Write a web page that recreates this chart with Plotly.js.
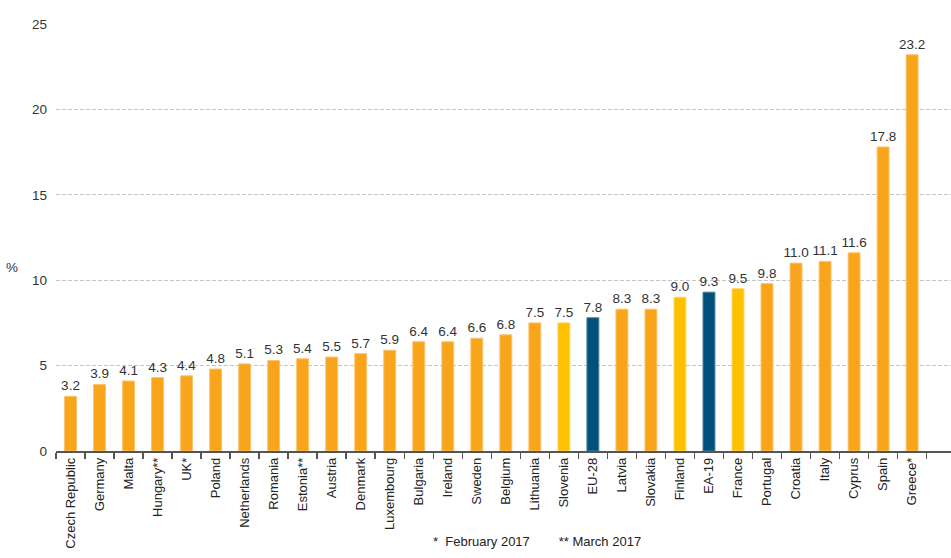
<!DOCTYPE html>
<html><head><meta charset="utf-8">
<script src="https://cdn.plot.ly/plotly-3.0.1.min.js"></script>
<style>html,body{margin:0;padding:0;background:#fff}#chart{width:951px;height:558px}</style>
</head><body><div id="chart"></div>
<script>
const categories = ["Czech Republic","Germany","Malta","Hungary**","UK*","Poland","Netherlands","Romania","Estonia**","Austria","Denmark","Luxembourg","Bulgaria","Ireland","Sweden","Belgium","Lithuania","Slovenia","EU-28","Latvia","Slovakia","Finland","EA-19","France","Portugal","Croatia","Italy","Cyprus","Spain","Greece*"];
const values = [3.2,3.9,4.1,4.3,4.4,4.8,5.1,5.3,5.4,5.5,5.7,5.9,6.4,6.4,6.6,6.8,7.5,7.5,7.8,8.3,8.3,9.0,9.3,9.5,9.8,11.0,11.1,11.6,17.8,23.2];
const groups = ["c","c","c","c","c","c","c","c","c","c","c","c","c","c","c","c","c","y","a","c","c","y","a","y","c","c","c","c","c","c"];
const colorMap = {c:"#F9A51C", y:"#FFC000", a:"#00507C"};
const lineMap = {c:"#FBC36A", y:"#FFD65A", a:"#4A7FA0"};

const trace = {
  type: "bar",
  x: categories,
  y: values,
  text: values.map(v => v.toFixed(1)),
  textposition: "outside",
  constraintext: "none",
  cliponaxis: false,
  textfont: {family: "Liberation Sans, Arial, sans-serif", size: 13.5, color: "#333"},
  marker: {color: groups.map(g => colorMap[g]), line: {color: groups.map(g => lineMap[g]), width: 1}},
  hoverinfo: "none"
};

const layout = {
  width: 951, height: 558,
  margin: {l: 56, r: 0, t: 24, b: 107},
  paper_bgcolor: "#fff", plot_bgcolor: "#fff",
  bargap: 0.59,
  showlegend: false,
  uniformtext: {mode: "show", minsize: 13.5},
  font: {family: "Liberation Sans, Arial, sans-serif", color: "#333"},
  xaxis: {
    type: "category",
    range: [-0.5, 30.34],
    tickangle: -90,
    tickfont: {size: 13, color: "#222"},
    showline: true, linecolor: "#555", linewidth: 1.5,
    ticks: "outside", tickson: "boundaries", ticklen: 6, tickcolor: "#555", tickwidth: 1.5,
    showgrid: false
  },
  yaxis: {
    range: [0, 25],
    tickvals: [0,5,10,15,20,25],
    tickfont: {size: 13.5, color: "#333"},
    showgrid: true, gridcolor: "#C4C4C4", griddash: "4px,2px", gridwidth: 1,
    zeroline: false, showline: false, ticks: "", ticklen: 0,
    ticklabelstandoff: 8
  },
  annotations: [
    {text: "%", xref: "paper", yref: "paper", x: -0.049, y: 0.43, xanchor: "center", showarrow: false, font: {size: 13.5, color: "#333"}},
    {text: "*  February 2017        ** March 2017", xref: "paper", yref: "paper", x: 0.537, y: -0.211, xanchor: "center", yanchor: "middle", showarrow: false, font: {size: 13, color: "#222"}}
  ]
};

Plotly.newPlot("chart", [trace], layout, {displayModeBar: false, staticPlot: true});
</script>
</body></html>
